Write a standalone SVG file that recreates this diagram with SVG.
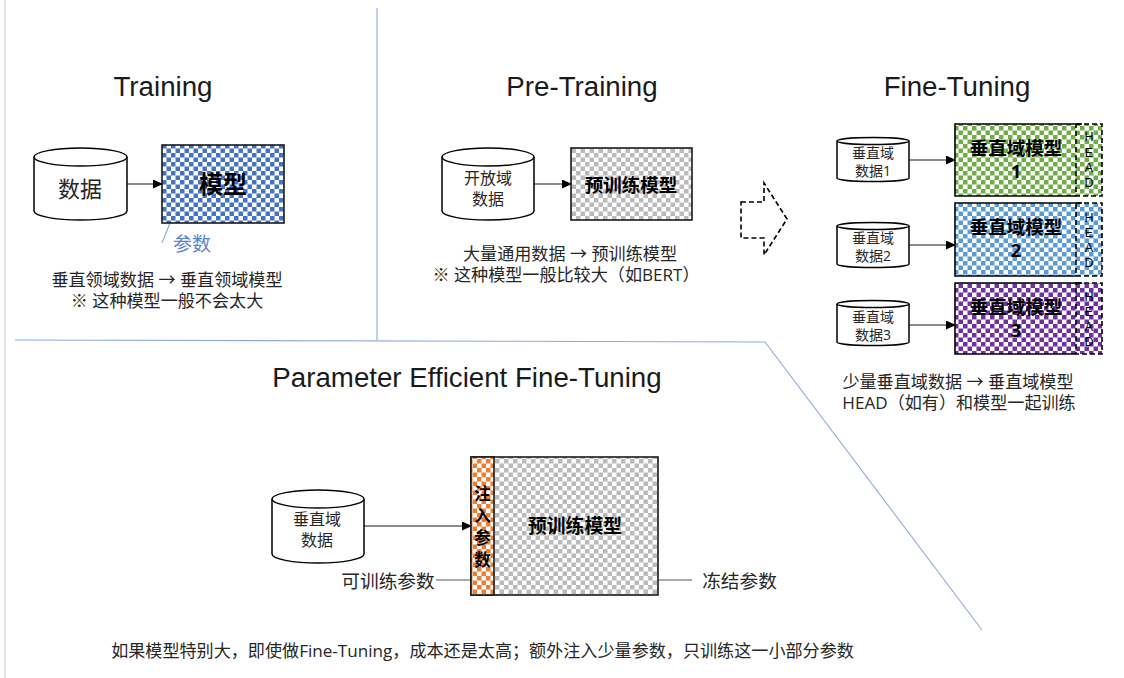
<svg xmlns="http://www.w3.org/2000/svg" width="1124" height="678" viewBox="0 0 1124 678">
<style>
text{font-family:"Open Sans","Noto Sans CJK SC",sans-serif;fill:#262626;text-anchor:middle}
.title{font-family:"Liberation Sans","Noto Sans CJK SC",sans-serif;font-size:27.7px;fill:#1a1a1a}
.cap{font-size:17.100px}
.mid{font-size:16px}
.lab{font-size:18.700px}
.b{font-weight:700;fill:#000}
.hd{font-size:12.500px;fill:#000;font-family:"Liberation Sans",sans-serif}
.sm{font-size:14px}
.box{stroke:#1a1a1a;stroke-width:1.6}
.dash{fill:none;stroke:#000;stroke-width:1.6;stroke-dasharray:5 3}
.cyl{fill:#fff;stroke:#000;stroke-width:1.5}
.div{fill:none;stroke:#8eaadb;stroke-width:1.1}
.ln{fill:none;stroke:#1a1a1a;stroke-width:1.1;marker-end:url(#a)}
.lead{fill:none;stroke:#555;stroke-width:1}
</style>
<defs>
<marker id="a" markerWidth="10" markerHeight="9" refX="9" refY="4.500" orient="auto" markerUnits="userSpaceOnUse"><path d="M0 0L10 4.500L0 9Z" fill="#000"/></marker>
<pattern id="pb" width="9" height="9" patternUnits="userSpaceOnUse"><rect width="9" height="9" fill="#fff"/><rect width="4.500" height="4.500" fill="#4472c4"/><rect x="4.500" y="4.500" width="4.500" height="4.500" fill="#4472c4"/></pattern>
<pattern id="pk" width="9" height="9" patternUnits="userSpaceOnUse"><rect width="9" height="9" fill="#fff"/><rect width="4.500" height="4.500" fill="#bababa"/><rect x="4.500" y="4.500" width="4.500" height="4.500" fill="#bababa"/></pattern>
<pattern id="pg" width="9" height="9" patternUnits="userSpaceOnUse"><rect width="9" height="9" fill="#fff"/><rect width="4.500" height="4.500" fill="#70ad47"/><rect x="4.500" y="4.500" width="4.500" height="4.500" fill="#70ad47"/></pattern>
<pattern id="pc" width="9" height="9" patternUnits="userSpaceOnUse"><rect width="9" height="9" fill="#fff"/><rect width="4.500" height="4.500" fill="#5b9bd5"/><rect x="4.500" y="4.500" width="4.500" height="4.500" fill="#5b9bd5"/></pattern>
<pattern id="pp" width="9" height="9" patternUnits="userSpaceOnUse"><rect width="9" height="9" fill="#fff"/><rect width="4.500" height="4.500" fill="#7030a0"/><rect x="4.500" y="4.500" width="4.500" height="4.500" fill="#7030a0"/></pattern>
<pattern id="po" width="9" height="9" patternUnits="userSpaceOnUse"><rect width="9" height="9" fill="#fff"/><rect width="4.500" height="4.500" fill="#ed7d31"/><rect x="4.500" y="4.500" width="4.500" height="4.500" fill="#ed7d31"/></pattern>
</defs>
<rect width="1124" height="678" fill="#fff"/>
<rect x="4" y="0" width="2" height="678" fill="#e2e2e2"/>

<g id="dividers">
<path class="div" d="M377 8V340"/>
<path class="div" d="M15 340L765 342L982 630"/>
</g>

<g id="titles">
<text class="title" x="163" y="96">Training</text>
<text class="title" x="582" y="96">Pre-Training</text>
<text class="title" x="957" y="96">Fine-Tuning</text>
<text class="title" x="467" y="387">Parameter Efficient Fine-Tuning</text>
</g>

<g id="connectors">
<path class="ln" d="M127 184H162"/>
<path class="ln" d="M534 184H571"/>
<path class="ln" d="M909 160H955"/>
<path class="ln" d="M909 245H955"/>
<path class="ln" d="M909 325H955"/>
<path class="ln" d="M364 526H471"/>
<path class="lead" d="M436 580H484"/>
<path class="lead" d="M645 580H692"/>
<path fill="none" stroke="#8eaadb" stroke-width="1.1" d="M170 223L162 243"/>
</g>

<g id="train-data">
<path class="cyl" d="M34 157V211A46.500 9 0 0 0 127 211V157A46.500 9 0 0 0 34 157Z"/>
<path class="cyl" d="M34 157A46.500 9 0 0 0 127 157"/>
<text x="80" y="197" font-size="22">数据</text>
</g>
<g id="train-model">
<rect class="box" x="162" y="145" width="122" height="78" fill="url(#pb)"/>
<text class="b" x="223" y="193" font-size="24">模型</text>
<text x="192" y="251" font-size="19" style="fill:#5b83cf">参数</text>
</g>
<text class="cap"><tspan x="167" y="286">垂直领域数据 → 垂直领域模型</tspan><tspan x="167" y="307">※ 这种模型一般不会太大</tspan></text>

<g id="pre-data">
<path class="cyl" d="M442 157V211A46 9 0 0 0 534 211V157A46 9 0 0 0 442 157Z"/>
<path class="cyl" d="M442 157A46 9 0 0 0 534 157"/>
<text class="mid"><tspan x="488" y="184">开放域</tspan><tspan x="488" y="205">数据</tspan></text>
</g>
<g id="pre-model">
<rect class="box" x="571" y="148" width="121" height="72" fill="url(#pk)"/>
<text class="b" x="631" y="192" font-size="18.500">预训练模型</text>
</g>
<text class="cap"><tspan x="570" y="260">大量通用数据 → 预训练模型</tspan><tspan x="566" y="281">※ 这种模型一般比较大（如BERT）</tspan></text>

<g id="arrow-shape"><path class="dash" d="M741 202H764V183L787 219L764 255V238H741Z"/></g>

<g id="ft-data-1">
<path class="cyl" d="M837 141V178A36 3.500 0 0 0 909 178V141A36 3.500 0 0 0 837 141Z"/>
<path class="cyl" d="M837 141A36 3.500 0 0 0 909 141"/>
<text class="sm"><tspan x="873" y="158">垂直域</tspan><tspan x="873" y="176">数据1</tspan></text>
</g>
<g id="ft-model-1">
<rect x="955" y="124" width="147" height="72" fill="url(#pg)"/>
<path fill="none" stroke="#000" stroke-width="1.600" d="M1082 124H955V196H1076"/>
<rect class="dash" x="1076" y="124" width="26" height="72"/>
<text class="b" font-size="18.500"><tspan x="1016" y="155">垂直域模型</tspan><tspan x="1016" y="178">1</tspan></text>
<text class="hd"><tspan x="1089" y="141">H</tspan><tspan x="1089" y="157">E</tspan><tspan x="1089" y="172">A</tspan><tspan x="1089" y="187">D</tspan></text>
</g>
<g id="ft-data-2">
<path class="cyl" d="M837 226V264A36 3.500 0 0 0 909 264V226A36 3.500 0 0 0 837 226Z"/>
<path class="cyl" d="M837 226A36 3.500 0 0 0 909 226"/>
<text class="sm"><tspan x="873" y="243">垂直域</tspan><tspan x="873" y="261">数据2</tspan></text>
</g>
<g id="ft-model-2">
<rect x="955" y="203" width="147" height="73" fill="url(#pc)"/>
<path fill="none" stroke="#000" stroke-width="1.600" d="M1082 203H955V276H1076"/>
<rect class="dash" x="1076" y="203" width="26" height="73"/>
<text class="b" font-size="18.500"><tspan x="1016" y="234">垂直域模型</tspan><tspan x="1016" y="257">2</tspan></text>
<text class="hd"><tspan x="1089" y="222">H</tspan><tspan x="1089" y="237">E</tspan><tspan x="1089" y="252">A</tspan><tspan x="1089" y="267">D</tspan></text>
</g>
<g id="ft-data-3">
<path class="cyl" d="M837 304V342A36 3.500 0 0 0 909 342V304A36 3.500 0 0 0 837 304Z"/>
<path class="cyl" d="M837 304A36 3.500 0 0 0 909 304"/>
<text class="sm"><tspan x="873" y="322">垂直域</tspan><tspan x="873" y="340">数据3</tspan></text>
</g>
<g id="ft-model-3">
<rect x="955" y="283" width="147" height="71" fill="url(#pp)"/>
<path fill="none" stroke="#000" stroke-width="1.600" d="M1082 283H955V354H1076"/>
<rect class="dash" x="1076" y="283" width="26" height="71"/>
<text class="b" font-size="18.500"><tspan x="1016" y="314">垂直域模型</tspan><tspan x="1016" y="337">3</tspan></text>
<text class="hd"><tspan x="1089" y="301">H</tspan><tspan x="1089" y="316">E</tspan><tspan x="1089" y="331">A</tspan><tspan x="1089" y="346">D</tspan></text>
</g>
<text class="cap"><tspan x="958" y="388">少量垂直域数据 → 垂直域模型</tspan><tspan x="959" y="409">HEAD（如有）和模型一起训练</tspan></text>

<g id="peft-data">
<path class="cyl" d="M272 499V554A46 9 0 0 0 364 554V499A46 9 0 0 0 272 499Z"/>
<path class="cyl" d="M272 499A46 9 0 0 0 364 499"/>
<text class="mid"><tspan x="317" y="525">垂直域</tspan><tspan x="317" y="546">数据</tspan></text>
</g>
<g id="peft-model">
<rect class="box" x="471" y="457" width="187" height="138" fill="url(#pk)"/>
<text class="b" x="575" y="533" font-size="18.800">预训练模型</text>
</g>
<g id="peft-inject">
<rect class="box" x="471" y="457" width="23" height="138" fill="url(#po)"/>
<text class="b" font-size="16.500"><tspan x="482.500" y="500">注</tspan><tspan x="482.500" y="522">入</tspan><tspan x="482.500" y="544">参</tspan><tspan x="482.500" y="566">数</tspan></text>
</g>
<text class="lab" x="388" y="588">可训练参数</text>
<text class="lab" x="739.500" y="588">冻结参数</text>
<text class="cap" x="482.500" y="657">如果模型特别大，即使做Fine-Tuning，成本还是太高；额外注入少量参数，只训练这一小部分参数</text>
</svg>
